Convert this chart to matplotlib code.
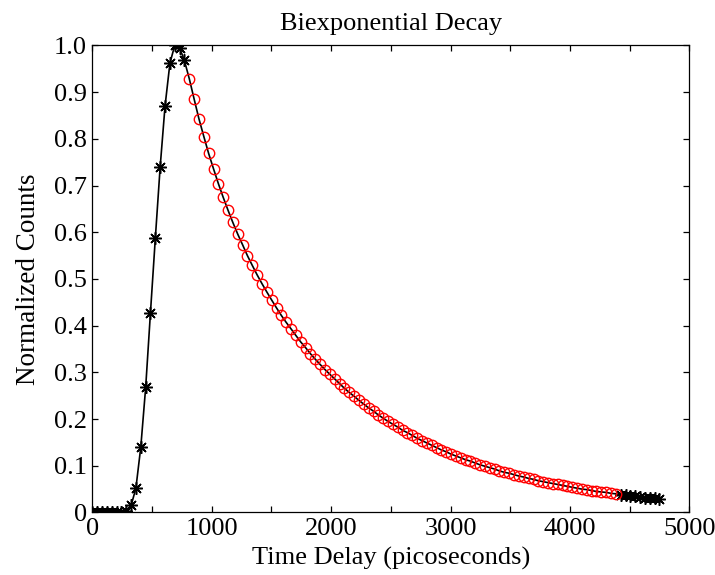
import matplotlib
matplotlib.use('Agg')
import matplotlib.pyplot as plt
from matplotlib.ticker import MultipleLocator

plt.rcParams['font.family'] = ['Liberation Serif', 'DejaVu Serif']

# rising edge (plotted with asterisks)
rise_time = [0, 41, 81, 122, 162, 203, 244, 284, 325, 365,
             406, 447, 487, 528, 568, 609, 650, 690, 731, 771]
rise_counts = [0.001, 0.000, 0.002, 0.001, 0.000, 0.002, 0.001, 0.003, 0.015, 0.052,
               0.140, 0.268, 0.428, 0.588, 0.739, 0.870, 0.962, 1.000, 0.995, 0.968]

# fitted region (red circles)
fit_time = [812, 853, 893, 934, 974, 1015, 1056, 1096, 1137, 1177,
            1218, 1259, 1299, 1340, 1380, 1421, 1462, 1502, 1543, 1583,
            1624, 1665, 1705, 1746, 1786, 1827, 1868, 1908, 1949, 1989,
            2030, 2071, 2111, 2152, 2192, 2233, 2274, 2314, 2355, 2395,
            2436, 2477, 2517, 2558, 2598, 2639, 2680, 2720, 2761, 2801,
            2842, 2883, 2923, 2964, 3004, 3045, 3086, 3126, 3167, 3207,
            3248, 3289, 3329, 3370, 3410, 3451, 3492, 3532, 3573, 3613,
            3654, 3695, 3735, 3776, 3816, 3857, 3898, 3938, 3979, 4019,
            4060, 4101, 4141, 4182, 4222, 4263, 4304, 4344, 4385]
fit_counts = [0.929, 0.885, 0.843, 0.805, 0.769, 0.736, 0.704, 0.675, 0.647, 0.621,
              0.596, 0.573, 0.550, 0.529, 0.509, 0.490, 0.472, 0.455, 0.438, 0.422,
              0.407, 0.393, 0.379, 0.365, 0.353, 0.340, 0.328, 0.317, 0.306, 0.296,
              0.286, 0.276, 0.266, 0.257, 0.249, 0.240, 0.232, 0.224, 0.217, 0.209,
              0.202, 0.195, 0.189, 0.183, 0.176, 0.171, 0.165, 0.159, 0.154, 0.149,
              0.144, 0.139, 0.134, 0.130, 0.125, 0.121, 0.117, 0.113, 0.110, 0.106,
              0.102, 0.099, 0.096, 0.093, 0.089, 0.086, 0.084, 0.081, 0.078, 0.076,
              0.073, 0.071, 0.068, 0.066, 0.064, 0.062, 0.060, 0.058, 0.056, 0.054,
              0.052, 0.050, 0.049, 0.047, 0.045, 0.044, 0.043, 0.041, 0.040]

# tail after fit (asterisks)
tail_time = [4425, 4466, 4507, 4547, 4588, 4628, 4669, 4710, 4750]
tail_counts = [0.038, 0.037, 0.036, 0.035, 0.034, 0.032, 0.031, 0.030, 0.029]

y_ticks = [0, 0.1, 0.2, 0.3, 0.4, 0.5, 0.6, 0.7, 0.8, 0.9, 1.0]
y_labels = ['0', '0.1', '0.2', '0.3', '0.4', '0.5', '0.6', '0.7', '0.8', '0.9', '1.0']

fig = plt.figure(figsize=(7.15, 5.75), dpi=100)
ax = fig.add_axes([0.1291, 0.1087, 0.835, 0.8122])

all_time = rise_time + fit_time + tail_time
all_counts = rise_counts + fit_counts + tail_counts
ax.plot(all_time, all_counts, color='black', linewidth=1.2, zorder=2)

star = (8, 2, 0)
ax.plot(rise_time, rise_counts, linestyle='none', marker=star, markersize=9,
        markeredgecolor='black', markeredgewidth=1.1, zorder=3)
ax.plot(tail_time, tail_counts, linestyle='none', marker=star, markersize=9,
        markeredgecolor='black', markeredgewidth=1.1, zorder=3)
ax.plot(fit_time, fit_counts, linestyle='none', marker='o', markersize=7.5,
        markerfacecolor='none', markeredgecolor='red', markeredgewidth=1.0, zorder=3)

ax.set_xlim(0, 5000)
ax.set_ylim(0, 1.0)
ax.xaxis.set_major_locator(MultipleLocator(1000))
ax.xaxis.set_minor_locator(MultipleLocator(500))
ax.set_yticks(y_ticks)
ax.set_yticklabels(y_labels)

ax.tick_params(which='both', direction='in', top=True, right=True,
               length=4, width=0.9, labelsize=19, pad=4)
for s in ax.spines.values():
    s.set_linewidth(0.9)

ax.set_xlabel('Time Delay (picoseconds)', fontsize=19, labelpad=5)
ax.set_ylabel('Normalized Counts', fontsize=19.5, labelpad=9)
ax.set_title('Biexponential Decay', fontsize=19, pad=11)

fig.savefig('out.png', dpi=100)
